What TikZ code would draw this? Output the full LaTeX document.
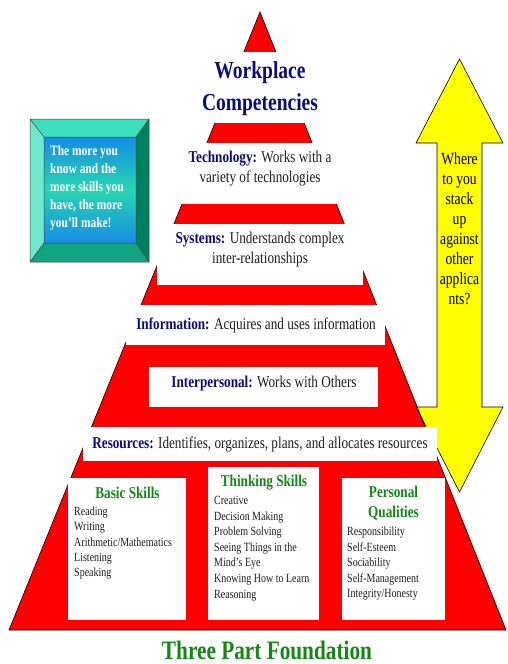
\documentclass[tikz,border=0pt]{standalone}
\usepackage{fontspec}
\setmainfont[FakeStretch=0.8]{Liberation Serif}
\definecolor{redc}{RGB}{255,0,0}
\definecolor{yelc}{RGB}{255,255,0}
\definecolor{navyc}{RGB}{12,12,128}
\definecolor{greenc}{RGB}{20,135,20}
\definecolor{txtc}{RGB}{30,30,30}
\definecolor{tealtop}{RGB}{60,224,188}
\definecolor{tealleft}{RGB}{112,232,206}
\definecolor{tealright}{RGB}{0,128,96}
\definecolor{tealbot}{RGB}{16,164,128}
\definecolor{blueA}{RGB}{22,140,228}
\definecolor{greenA}{RGB}{40,214,176}
\begin{document}
\begin{tikzpicture}[x=1pt,y=-1pt,
  bandtxt/.style={font=\fontsize{16.5}{20}\selectfont, align=center, inner sep=0pt, text=txtc},
  itemtxt/.style={font=\fontsize{12.5}{14}\selectfont, inner sep=0pt, anchor=base west, text=txtc},
  headtxt/.style={font=\fontsize{16.5}{20}\selectfont\bfseries, text=greenc, align=center, inner sep=0pt},
  tealtxt/.style={font=\fontsize{14.3}{18}\selectfont\bfseries, text=white, inner sep=0pt, anchor=base west},
  yeltxt/.style={font=\fontsize{17}{20}\selectfont, text=black, inner sep=0pt, anchor=base},
  outl/.style={line width=0.6pt, draw=black}
]
\useasboundingbox (0,0) rectangle (507,664);
\fill[white] (0,0) rectangle (507,664);

% pyramid
\coordinate (apex) at (260,12);
\coordinate (bl) at (9,630);
\coordinate (br) at (506,630);
\fill[redc] (apex) -- (bl) -- (br) -- cycle;

% yellow double arrow
\filldraw[fill=yelc, outl] (459.5,59) -- (503,143) -- (482,143) -- (482,407) -- (503,407)
  -- (459.5,492) -- (416,407) -- (437,407) -- (437,143) -- (416,143) -- cycle;

\draw[outl] (apex) -- (bl) -- (br) -- cycle;

% white bands
\fill[white] (160,52) rectangle (360,123);
\fill[white] (160,143) rectangle (360,204);
\fill[white] (157,224) rectangle (363,285);
\fill[white] (126,305) rectangle (385,345);
\fill[white] (149,367) rectangle (378,407);
\fill[white] (83,427) rectangle (437,461);
\fill[white] (68,478) rectangle (186,620);
\fill[white] (208,467) rectangle (319,620);
\fill[white] (342,478) rectangle (445,620);

% teal bevel box
\fill[tealtop] (30,119) -- (149,119) -- (136,137) -- (44,137) -- cycle;
\fill[tealleft] (30,119) -- (44,137) -- (44,243) -- (30,262) -- cycle;
\fill[tealright] (149,119) -- (149,262) -- (136,243) -- (136,137) -- cycle;
\fill[tealbot] (30,262) -- (44,243) -- (136,243) -- (149,262) -- cycle;
\shade[top color=blueA, bottom color=blueA, middle color=greenA] (44,137) rectangle (136,243);
\draw[line width=0.5pt, black!75] (30,119) rectangle (149,262) (44,137) rectangle (136,243)
  (30,119) -- (44,137) (149,119) -- (136,137) (30,262) -- (44,243) (149,262) -- (136,243);
\foreach \t [count=\i from 0] in {The more you, know and the, more skills you, {have, the more}, you’ll make!}
  \node[tealtxt] (tb\i) at (50,{155.5+18*\i}) {\t};

% title
\node[font=\fontsize{24.4}{32}\selectfont\bfseries, text=navyc, align=center, inner sep=0pt] (title) at (260,89) {Workplace\\Competencies};

% bands text
\node[bandtxt] (tech) at (260,169) {\textcolor{navyc}{\textbf{Technology:}} Works with a\\variety of technologies};
\node[bandtxt] (sys) at (260,250) {\textcolor{navyc}{\textbf{Systems:}} Understands complex\\inter-relationships};
\node[bandtxt] (info) at (256,325) {\textcolor{navyc}{\textbf{Information:}} Acquires and uses information};
\node[bandtxt] (inter) at (264,384) {\textcolor{navyc}{\textbf{Interpersonal:}} Works with Others};
\node[bandtxt] (res) at (260,444) {\textcolor{navyc}{\textbf{Resources:}} Identifies, organizes, plans, and allocates resources};

% foundation boxes
\node[headtxt] (basic) at (127.5,493) {Basic Skills};
\node[headtxt] (think) at (264,483) {Thinking Skills};
\node[headtxt] (pers) at (393.5,503) {Personal\\Qualities};

\foreach \t [count=\i from 0] in {Reading, Writing, Arithmetic/Mathematics, Listening, Speaking}
  \node[itemtxt] (bs\i) at (74,{515.5+15.3*\i}) {\t};
\foreach \t [count=\i from 0] in {Creative, Decision Making, Problem Solving, Seeing Things in the, Mind’s Eye, Knowing How to Learn, Reasoning}
  \node[itemtxt] (ts\i) at (214,{504.5+15.6*\i}) {\t};
\foreach \t [count=\i from 0] in {Responsibility, Self-Esteem, Sociability, Self-Management, Integrity/Honesty}
  \node[itemtxt] (pq\i) at (347,{535.5+15.5*\i}) {\t};

% yellow arrow text
\foreach \t [count=\i from 0] in {Where, to you, stack, up, against, other, applica, nts?}
  \node[yeltxt] (ya\i) at (459.5,{164+20*\i}) {\t};

% foundation label
\node[font=\fontsize{26.6}{30}\selectfont\bfseries, text=greenc, inner sep=0pt] (found) at (267,650) {Three Part Foundation};
\end{tikzpicture}
\end{document}
